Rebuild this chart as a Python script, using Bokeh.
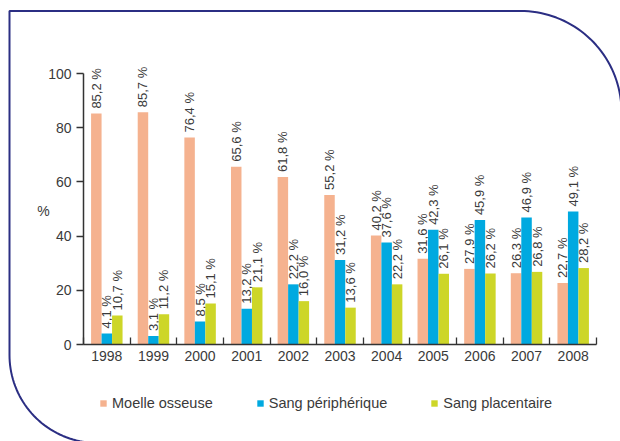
import numpy as np
from bokeh.plotting import figure
from bokeh.models import (Range1d, FixedTicker, ColumnDataSource, Legend,
                          LegendItem, Label, PolyAnnotation, LinearAxis)
from bokeh.embed import file_html
from bokeh.resources import INLINE
from bokeh.core.properties import value

# ---------------- data ----------------
years = ["1998", "1999", "2000", "2001", "2002", "2003",
         "2004", "2005", "2006", "2007", "2008"]
moelle = [85.2, 85.7, 76.4, 65.6, 61.8, 55.2, 40.2, 31.6, 27.9, 26.3, 22.7]
sang_peripherique = [4.1, 3.1, 8.5, 13.2, 22.2, 31.2, 37.6, 42.3, 45.9, 46.9, 49.1]
sang_placentaire = [10.7, 11.2, 15.1, 21.1, 16.0, 13.6, 22.2, 26.1, 26.2, 26.8, 28.2]
series_names = ["Moelle osseuse", "Sang périphérique", "Sang placentaire"]
y_ticks = [0, 20, 40, 60, 80, 100]
y_axis_title = "%"

# ---------------- style / layout ----------------
colors = ["#F5B28F", "#00A9E0", "#CDD628"]
FONT = "Liberation Sans"
TXT = "#3a3a3a"
AX = "#333333"
W, H = 620, 441
n = len(years)
# pixel anchors of the chart area (page pixels)
PX_LEFT, PX_RIGHT = 83.0, 596.0      # x = 0.5 .. n + 0.5
PX_ZERO, PX_HUNDRED = 344.0, 73.0    # y = 0 .. 100
XS = (PX_RIGHT - PX_LEFT) / n
YS = (PX_ZERO - PX_HUNDRED) / 100.0


def dx(px):
    return 0.5 + (px - PX_LEFT) / XS


def dy(py):
    return (PX_ZERO - py) / YS


BAR_W = 0.225
offsets = [-BAR_W, 0.0, BAR_W]

p = figure(width=W, height=H,
           x_range=Range1d(dx(0), dx(W)), y_range=Range1d(dy(H), dy(0)),
           x_axis_type=None, y_axis_type=None,
           output_backend="svg", toolbar_location=None, min_border=0)
p.outline_line_color = None
p.xgrid.visible = False
p.ygrid.visible = False
p.background_fill_color = "white"
p.border_fill_color = "white"

idx = np.arange(1, n + 1)
renderers = []
for vals, off, col in zip([moelle, sang_peripherique, sang_placentaire], offsets, colors):
    src = ColumnDataSource(dict(
        x=idx + off,
        top=vals,
        ly=np.array(vals) + 5.0 / YS,
        lab=[("%.1f" % v).replace(".", ",") + " %" for v in vals],
    ))
    r = p.vbar(x="x", top="top", bottom=0, width=BAR_W, source=src,
               fill_color=col, line_color=None)
    renderers.append(r)
    p.text(x="x", y="ly", text="lab", source=src, angle=np.pi / 2,
           text_align="left", text_baseline="middle",
           text_font=value(FONT), text_font_size="13px", text_color=TXT)

# x axis: labels at group centres, ticks at group boundaries
xa = LinearAxis(fixed_location=0, bounds=(0.5, n + 0.5))
xa.ticker = FixedTicker(ticks=list(idx), minor_ticks=list(np.arange(0.5, n + 1, 1.0)))
xa.major_label_overrides = {int(i): y for i, y in zip(idx, years)}
xa.major_tick_in = 0
xa.major_tick_out = 0
xa.major_tick_line_color = None
xa.minor_tick_in = 7
xa.minor_tick_out = 0
xa.minor_tick_line_color = AX
xa.minor_tick_line_width = 1.3
xa.axis_line_color = AX
xa.axis_line_width = 1.5
xa.major_label_standoff = 6
xa.major_label_text_font = FONT
xa.major_label_text_font_size = "14px"
xa.major_label_text_color = TXT
p.add_layout(xa, "below")

ya = LinearAxis(fixed_location=0.5, bounds=(0, 100))
ya.ticker = FixedTicker(ticks=y_ticks)
ya.major_tick_in = 0
ya.major_tick_out = 7
ya.major_tick_line_color = AX
ya.major_tick_line_width = 1.3
ya.minor_tick_line_color = None
ya.axis_line_color = AX
ya.axis_line_width = 1.5
ya.major_label_standoff = 5
ya.major_label_text_font = FONT
ya.major_label_text_font_size = "14px"
ya.major_label_text_color = TXT
p.add_layout(ya, "left")

p.add_layout(Label(x=dx(43), y=dy(210), text=y_axis_title, text_align="center",
                   text_baseline="middle", text_font=FONT, text_font_size="14px",
                   text_color=TXT))

# legend
legend = Legend(items=[LegendItem(label=s, renderers=[r]) for s, r in zip(series_names, renderers)],
                orientation="horizontal", location=(99, 30),
                glyph_width=8, glyph_height=8, label_standoff=5, spacing=43,
                padding=0, margin=0, border_line_color=None,
                background_fill_alpha=0, label_text_font=FONT,
                label_text_font_size="14.5px", label_text_color=TXT)
p.add_layout(legend, "center")

# rounded frame around the whole chart (page pixels -> data)
left, top, right, bottom = 9.0, 10.5, 621.0, 442.5
r1, r2 = 101.0, 88.0
pts = [(left, top), (right - r1, top)]
th = np.linspace(np.pi / 2, 0, 40)
pts += [(right - r1 + r1 * np.cos(t), top + r1 - r1 * np.sin(t)) for t in th]
pts += [(right, bottom), (left + r2, bottom)]
th = np.linspace(3 * np.pi / 2, np.pi, 40)
pts += [(left + r2 + r2 * np.cos(t), bottom - r2 - r2 * np.sin(t)) for t in th]
pts += [(left, top)]
p.add_layout(PolyAnnotation(xs=[dx(a) for a, b in pts], ys=[dy(b) for a, b in pts],
                            fill_color=None, fill_alpha=0,
                            line_color="#2b2e83", line_alpha=1.0, line_width=2))

open("out.html", "w").write(file_html(p, INLINE))
